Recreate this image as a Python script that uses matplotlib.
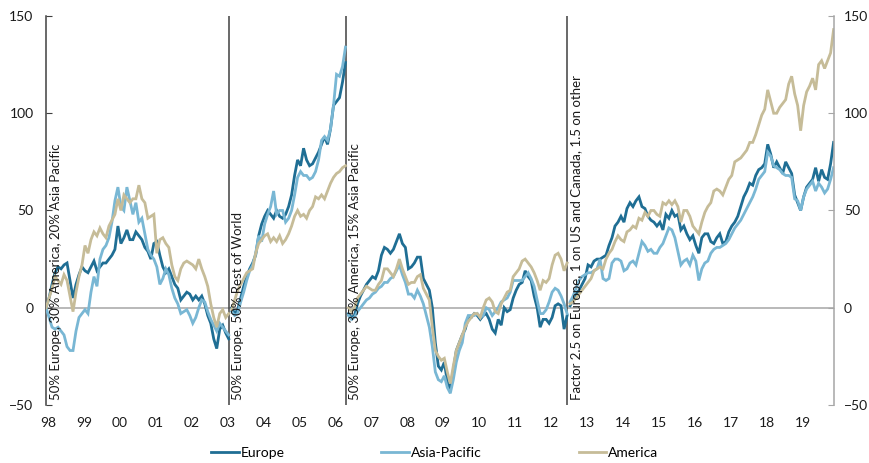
import numpy as np
import matplotlib.pyplot as plt
import matplotlib

matplotlib.rcParams['font.family'] = ['Lato', 'DejaVu Sans']

# monthly values, Jan 1998 .. Dec 2019, rebased at each regime change
europe = [0, 5, 12, 18, 21, 20, 22, 23, 14, 5,
          12, 17, 21, 19, 18, 21, 24, 19, 21, 23,
          23, 25, 27, 30, 42, 33, 36, 40, 35, 35,
          39, 37, 35, 31, 29, 25, 33, 34, 27, 21,
          18, 20, 16, 12, 10, 4, 6, 8, 7, 4,
          6, 4, 6, 2, -4, -8, -16, -21, -11, -9,
          -13, -16,
          0, -3, -1, 5, 11, 16, 20, 23, 27, 37,
          43, 47, 50, 48, 46, 50, 47, 46, 48, 52,
          58, 68, 76, 73, 82, 76, 73, 74, 77, 80,
          84, 88, 84, 92, 104, 106, 108, 116, 126,
          -3, -5, -4, 2, 6, 9, 12, 14, 16, 15,
          19, 27, 31, 30, 28, 30, 34, 38, 33, 31,
          20, 21, 23, 26, 26, 15, 12, 9, 0, -18,
          -30, -32, -28, -38, -42, -32, -22, -18, -14,
          -11, -5, -5, -3, -4, -6, -4, -3, -6, -11,
          -13, -6, -9, 0, -2, -1, 5, 9, 12, 13,
          19, 16, 14, 6, 0, -10, -6, -6, -8, -5,
          1, 2, 1, -11, -4,
          1, 4, 7, 9, 12, 15, 22, 21, 24, 25,
          25, 26, 27, 32, 36, 42, 44, 47, 44, 51,
          54, 52, 55, 57, 52, 51, 47, 45, 44, 42,
          44, 40, 48, 46, 50, 47, 48, 40, 42, 38,
          35, 37, 32, 28,
          36, 38, 38, 34, 33, 36, 38, 33, 34, 39, 42,
          44, 47, 52, 57, 60, 64, 63, 68, 71, 72,
          74, 84, 79, 72, 75, 72, 69, 75, 72, 69,
          58, 54, 50, 57, 62, 64, 66, 72, 65, 71,
          67, 66, 74, 85]

asia_pacific = [0, -5, -10, -11, -10, -12, -14, -20, -22, -22,
                -12, -5, -3, -1, -3, 8, 16, 11, 25, 30,
                32, 36, 44, 55, 62, 52, 50, 62, 55, 48,
                54, 44, 46, 38, 30, 27, 25, 21, 12, 15,
                20, 17, 10, 5, 2, -3, -2, -1, -4, -8,
                -5, 0, 4, 3, -2, -6, -9, -12, -8, -10,
                -12, -14,
                -2, -4, -3, 3, 8, 14, 19, 22, 28, 37,
                34, 43, 48, 52, 60, 48, 50, 50, 44, 46,
                50, 58, 67, 70, 68, 68, 66, 67, 70, 76,
                86, 88, 86, 92, 104, 120, 119, 124, 134,
                -4, -6, -5, -2, 0, 2, 4, 5, 7, 8,
                10, 11, 13, 13, 15, 16, 19, 22, 17, 13,
                7, 7, 5, 9, 6, 2, -4, -10, -20, -33,
                -37, -38, -35, -41, -44, -37, -28, -22, -18,
                -8, -4, -4, -4, -3, -5, -4, 0, -1, -4,
                -2, 0, 3, 4, 5, 8, 14, 14, 14, 14,
                16, 18, 15, 11, 4, -3, -3, -1, 3, 8,
                10, 9, 6, 2, -3,
                3, 6, 10, 14, 16, 17, 18, 18, 19, 20,
                25, 15, 14, 15, 23, 25, 25, 24, 19, 20,
                23, 24, 22, 28, 34, 32, 29, 30, 28, 28,
                31, 33, 37, 41, 40, 36, 29, 22, 24, 25,
                22, 27, 24, 14,
                20, 23, 24, 28, 30, 31, 31, 32, 33, 35, 38,
                41, 43, 45, 48, 51, 54, 57, 61, 66, 68,
                70, 80, 78, 73, 72, 71, 69, 68, 68, 67,
                56, 55, 50, 57, 61, 63, 65, 60, 64, 62,
                59, 61, 66, 72]

america = [0, 5, 10, 16, 14, 12, 17, 14, 6, -2,
           8, 16, 22, 32, 28, 35, 39, 37, 41, 38,
           36, 42, 45, 48, 56, 50, 58, 56, 54, 56,
           56, 63, 56, 54, 46, 47, 48, 28, 35, 36,
           33, 31, 22, 16, 14, 20, 23, 24, 23, 22,
           20, 25, 20, 16, 11, 2, -5, -10, -3, -1,
           -5, -3,
           -1, 4, 9, 12, 15, 18, 19, 20, 28, 33,
           35, 37, 38, 34, 36, 34, 37, 33, 35, 38,
           42, 47, 50, 47, 48, 46, 50, 52, 57, 56,
           58, 56, 60, 64, 67, 69, 70, 72, 73,
           0, -2, 0, 5, 7, 9, 11, 10, 9, 9,
           12, 14, 20, 20, 18, 16, 20, 25, 20, 16,
           12, 13, 13, 16, 17, 10, 7, 4, -10, -22,
           -25, -27, -26, -33, -39, -30, -22, -18, -14,
           -10, -7, -5, -3, -3, -5, 0, 4, 5, 3,
           -2, -3, 2, 5, 8, 9, 16, 18, 20, 24,
           25, 23, 21, 18, 14, 9, 14, 13, 15, 22,
           27, 28, 25, 19, 23,
           2, 3, 5, 7, 9, 11, 13, 15, 19, 20,
           21, 20, 25, 28, 30, 34, 37, 35, 34, 39,
           40, 42, 41, 46, 45, 49, 47, 50, 50, 48,
           47, 54, 53, 55, 53, 55, 52, 44, 50, 50,
           47, 42, 40, 38,
           44, 49, 52, 54, 60, 61, 60, 58, 62, 66, 68,
           75, 76, 77, 79, 81, 85, 85, 89, 94, 99,
           102, 112, 106, 100, 100, 103, 105, 107, 115, 119,
           110, 104, 91, 104, 111, 114, 118, 112, 125, 127,
           123, 127, 131, 143]

seg_start = [0, 62, 101, 175]
regime_year = [1998.0, 2003.09, 2006.34, 2012.5]
regime_text = ['50% Europe, 30% America, 20% Asia Pacific',
               '50% Europe, 50% Rest of World',
               '50% Europe, 35% America, 15% Asia Pacific',
               'Factor 2.5 on Europe, 1 on US and Canada, 1.5 on other']
year_labels = ['98', '99', '00', '01', '02', '03', '04', '05', '06', '07', '08',
               '09', '10', '11', '12', '13', '14', '15', '16', '17', '18', '19']

series = [('Europe', europe, '#1f6e94'),
          ('Asia-Pacific', asia_pacific, '#79b7d4'),
          ('America', america, '#c6bc98')]

x = 1998 + np.arange(len(europe)) / 12.0
bounds = seg_start + [len(europe)]

fig = plt.figure(figsize=(8.69, 4.63), dpi=100)
ax = fig.add_axes([0.053, 0.1253, 0.9068, 0.8402])

ax.axhline(0, color='#b3b3b3', lw=1.3, zorder=1)
for yr in regime_year[1:]:
    ax.axvline(yr, color='#404040', lw=1.1, zorder=2)

for name, vals, col in series:
    vals = np.array(vals, dtype=float)
    for i in range(len(seg_start)):
        s, e = bounds[i], bounds[i + 1]
        ax.plot(x[s:e], vals[s:e], color=col, lw=2.0, zorder=3,
                label=name if i == 0 else None, solid_joinstyle='miter')

for yr, txt in zip(regime_year, regime_text):
    ax.annotate(txt, xy=(yr, -47.5), xytext=(2.5, 0), textcoords='offset points',
                rotation=90, ha='left', va='bottom', fontsize=9.5, color='#1a1a1a',
                zorder=4)

ax.set_xlim(1998, 2019.93)
ax.set_ylim(-50, 150)
ax.set_yticks([-50, 0, 50, 100, 150])
ax.set_xticks([1998.05 + k for k in range(len(year_labels))])
ax.set_xticklabels(year_labels)
ax.tick_params(axis='x', length=0, pad=9, labelsize=10, labelcolor='#1a1a1a')
ax.tick_params(axis='y', direction='in', length=4, color='#404040', pad=9,
               labelsize=10, labelcolor='#1a1a1a')
for s in ['top', 'bottom', 'right']:
    ax.spines[s].set_visible(False)
ax.spines['left'].set_color('#404040')
ax.spines['left'].set_linewidth(1.1)

ax2 = ax.twinx()
ax2.set_ylim(-50, 150)
ax2.set_yticks([-50, 0, 50, 100, 150])
ax2.tick_params(axis='y', direction='in', length=4, color='#a6a6a6', pad=7,
                labelsize=10, labelcolor='#1a1a1a')
for s in ['top', 'bottom', 'left']:
    ax2.spines[s].set_visible(False)
ax2.spines['right'].set_color('#a6a6a6')
ax2.spines['right'].set_linewidth(1.1)

fig.legend(loc='center', bbox_to_anchor=(0.5, 0.022), ncol=3, frameon=False,
           handlelength=2.0, handletextpad=0.1, columnspacing=7.0, fontsize=10)

fig.savefig('out.png', dpi=100)
